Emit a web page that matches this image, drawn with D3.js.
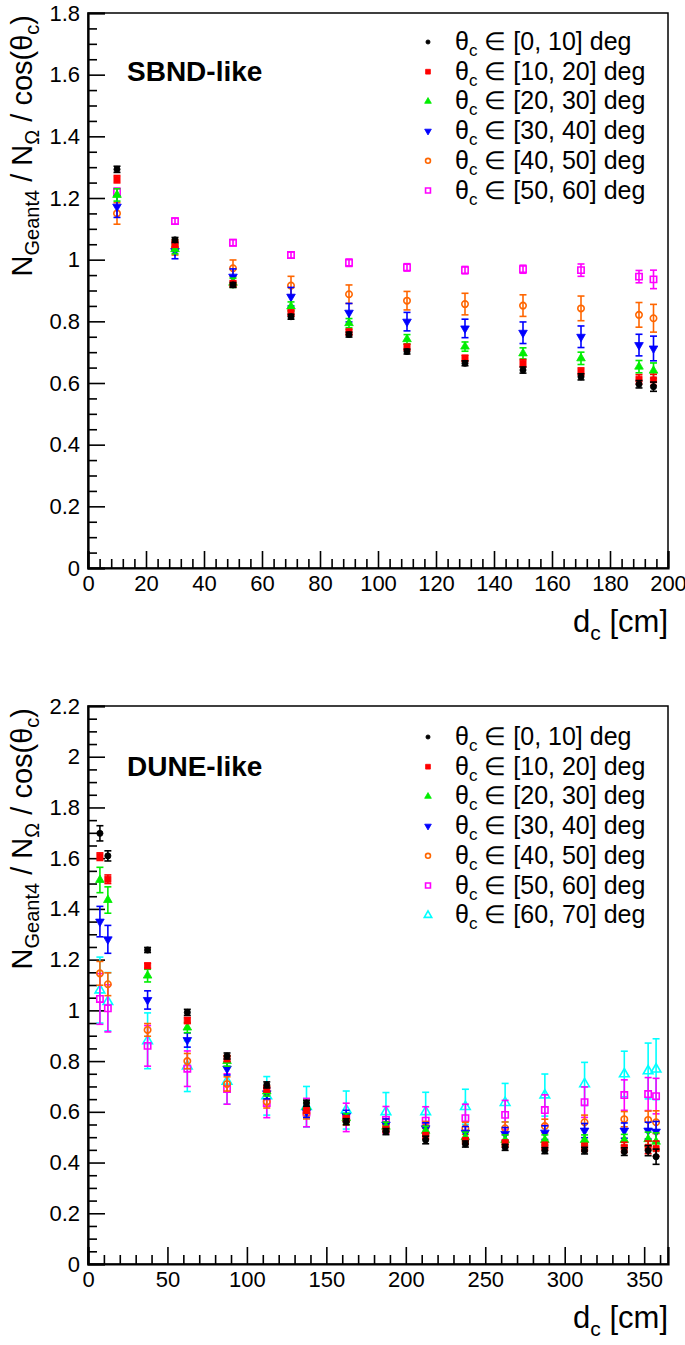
<!DOCTYPE html>
<html><head><meta charset="utf-8">
<script src="https://cdn.jsdelivr.net/npm/d3@7"></script>
<style>html,body{margin:0;padding:0;background:#fff}svg{display:block}</style>
</head><body>
<script>
// ---------- DATA ----------
const seriesNames = ["[0, 10]", "[10, 20]", "[20, 30]", "[30, 40]", "[40, 50]", "[50, 60]", "[60, 70]"];
const seriesColors = ["#000000", "#ff0000", "#00ee00", "#0000ff", "#ff6600", "#ff00ff", "#00ffff"];
const seriesMarkers = ["dot", "square", "triUp", "triDown", "openCircle", "openSquare", "openTriUp"];

// SBND-like
const sbndX = [10, 30, 50, 70, 90, 110, 130, 150, 170, 190, 195];
const sbndY = [
  [1.293, 1.064, 0.918, 0.815, 0.757, 0.702, 0.664, 0.642, 0.620, 0.596, 0.588],
  [1.261, 1.050, 0.922, 0.827, 0.765, 0.716, 0.680, 0.664, 0.637, 0.612, 0.610],
  [1.210, 1.034, 0.925, 0.848, 0.794, 0.742, 0.718, 0.696, 0.680, 0.653, 0.640],
  [1.172, 1.028, 0.945, 0.880, 0.828, 0.799, 0.777, 0.763, 0.750, 0.723, 0.712],
  [1.150, 1.040, 0.972, 0.916, 0.888, 0.867, 0.856, 0.851, 0.842, 0.821, 0.810],
  [1.220, 1.125, 1.055, 1.015, 0.990, 0.975, 0.966, 0.969, 0.966, 0.945, 0.936]
];
const sbndErr = [
  [0.010, 0.008, 0.008, 0.008, 0.008, 0.008, 0.008, 0.010, 0.010, 0.012, 0.015],
  [0.012, 0.010, 0.010, 0.010, 0.010, 0.010, 0.010, 0.012, 0.012, 0.015, 0.018],
  [0.020, 0.015, 0.015, 0.015, 0.015, 0.015, 0.015, 0.018, 0.020, 0.020, 0.025],
  [0.035, 0.025, 0.025, 0.030, 0.030, 0.030, 0.030, 0.035, 0.035, 0.035, 0.040],
  [0.035, 0.025, 0.027, 0.030, 0.030, 0.030, 0.035, 0.035, 0.040, 0.040, 0.045],
  [0.012, 0.010, 0.010, 0.010, 0.012, 0.012, 0.012, 0.013, 0.020, 0.020, 0.030]
];
const sbndXTicks = [0, 20, 40, 60, 80, 100, 120, 140, 160, 180, 200];
const sbndYTicks = [0, 0.2, 0.4, 0.6, 0.8, 1, 1.2, 1.4, 1.6, 1.8];

// DUNE-like
const duneX = [7.5, 12.5, 37.5, 62.5, 87.5, 112.5, 137.5, 162.5, 187.5, 212.5, 237.5, 262.5, 287.5, 312.5, 337.5, 352.5, 357.5];
const duneY = [
  [1.698, 1.609, 1.238, 0.992, 0.820, 0.706, 0.634, 0.561, 0.522, 0.489, 0.473, 0.460, 0.447, 0.447, 0.443, 0.447, 0.423],
  [1.606, 1.517, 1.176, 0.960, 0.810, 0.690, 0.607, 0.572, 0.530, 0.505, 0.485, 0.475, 0.465, 0.460, 0.460, 0.460, 0.455],
  [1.514, 1.435, 1.137, 0.932, 0.800, 0.680, 0.620, 0.575, 0.541, 0.525, 0.500, 0.489, 0.489, 0.489, 0.489, 0.492, 0.482],
  [1.350, 1.280, 1.041, 0.883, 0.770, 0.673, 0.600, 0.584, 0.550, 0.535, 0.518, 0.513, 0.518, 0.526, 0.526, 0.526, 0.522],
  [1.146, 1.103, 0.923, 0.800, 0.710, 0.640, 0.594, 0.570, 0.550, 0.540, 0.535, 0.535, 0.544, 0.559, 0.571, 0.568, 0.559],
  [1.045, 1.008, 0.860, 0.770, 0.690, 0.635, 0.597, 0.578, 0.568, 0.565, 0.575, 0.588, 0.607, 0.638, 0.666, 0.670, 0.662],
  [1.080, 1.034, 0.880, 0.780, 0.720, 0.663, 0.620, 0.607, 0.600, 0.600, 0.620, 0.636, 0.666, 0.710, 0.749, 0.761, 0.768]
];
const duneErr = [
  [0.030, 0.020, 0.010, 0.012, 0.012, 0.012, 0.012, 0.012, 0.012, 0.015, 0.012, 0.012, 0.012, 0.013, 0.015, 0.020, 0.030],
  [0.015, 0.017, 0.010, 0.012, 0.012, 0.012, 0.012, 0.012, 0.012, 0.013, 0.013, 0.014, 0.015, 0.016, 0.020, 0.025, 0.030],
  [0.050, 0.052, 0.025, 0.020, 0.020, 0.018, 0.018, 0.018, 0.018, 0.018, 0.020, 0.020, 0.020, 0.020, 0.022, 0.028, 0.035],
  [0.060, 0.055, 0.036, 0.028, 0.025, 0.022, 0.022, 0.022, 0.022, 0.022, 0.024, 0.025, 0.027, 0.028, 0.030, 0.033, 0.040],
  [0.047, 0.045, 0.025, 0.030, 0.028, 0.025, 0.022, 0.022, 0.022, 0.022, 0.024, 0.025, 0.027, 0.028, 0.030, 0.035, 0.045],
  [0.100, 0.093, 0.080, 0.070, 0.060, 0.058, 0.056, 0.056, 0.053, 0.055, 0.055, 0.057, 0.060, 0.060, 0.060, 0.065, 0.070],
  [0.130, 0.115, 0.110, 0.100, 0.090, 0.076, 0.080, 0.075, 0.076, 0.077, 0.069, 0.076, 0.083, 0.085, 0.090, 0.110, 0.120]
];
const duneXTicks = [0, 50, 100, 150, 200, 250, 300, 350];
const duneYTicks = [0, 0.2, 0.4, 0.6, 0.8, 1, 1.2, 1.4, 1.6, 1.8, 2, 2.2];

// ---------- DRAW ----------
const W = 685, H = 1345;
const FONT = "'Liberation Sans', Arial, Helvetica, sans-serif";
const svg = d3.select("body").append("svg").attr("width", W).attr("height", H)
  .style("font-family", FONT);

function drawMarker(g, type, color, cx, cy, s) {
  const sym = {
    dot: d3.symbolCircle, square: d3.symbolSquare, triUp: d3.symbolTriangle,
    triDown: d3.symbolTriangle, openCircle: d3.symbolCircle, openSquare: d3.symbolSquare,
    openTriUp: d3.symbolTriangle
  }[type];
  const sizes = { dot: 30, square: 38, triUp: 32, triDown: 32, openCircle: 32, openSquare: 40, openTriUp: 40 };
  const open = type.startsWith("open");
  g.append("path")
    .attr("d", d3.symbol().type(sym).size(sizes[type] * s)())
    .attr("transform", `translate(${cx},${cy})${type === "triDown" ? " rotate(180)" : ""}`)
    .attr("fill", open ? "none" : color)
    .attr("stroke", color)
    .attr("stroke-width", open ? 1.6 : 0.8);
}

function panel(cfg) {
  const { top, bottom, left, right, xmax, ymax, xTicks, xMinorStep, yTicks, xs, ys, errs, label, legendTop, labelY, xTitleY } = cfg;
  const g = svg.append("g");
  const x = d3.scaleLinear().domain([0, xmax]).range([left, right]);
  const y = d3.scaleLinear().domain([0, ymax]).range([bottom, top]);

  // frame
  g.append("rect").attr("x", left).attr("y", top).attr("width", right - left).attr("height", bottom - top)
    .attr("fill", "none").attr("stroke", "#000").attr("stroke-width", 1.5);

  // axes using d3 axis, ticks inward
  const yAxis = d3.axisLeft(y).tickValues(yTicks).tickSize(-17).tickPadding(8)
    .tickFormat(d => d3.format("~g")(d));
  const ya = g.append("g").attr("transform", `translate(${left},0)`).call(yAxis);
  ya.select(".domain").attr("stroke-width", 2.2);
  ya.selectAll(".tick line").attr("stroke-width", 1.6);
  ya.selectAll(".tick text").attr("font-size", 22).attr("font-family", FONT).attr("fill", "#000");
  const yMinor = d3.range(0, ymax + 1e-9, 0.05).filter(v => !yTicks.some(t => Math.abs(t - v) < 1e-6));
  const yma = g.append("g").attr("transform", `translate(${left},0)`)
    .call(d3.axisLeft(y).tickValues(yMinor).tickSize(-9).tickFormat(""));
  yma.select(".domain").remove();
  yma.selectAll(".tick line").attr("stroke-width", 1.6);

  const xAxis = d3.axisBottom(x).tickValues(xTicks).tickSize(-17).tickPadding(7);
  const xa = g.append("g").attr("transform", `translate(0,${bottom})`).call(xAxis);
  xa.select(".domain").attr("stroke-width", 2.2);
  xa.selectAll(".tick line").attr("stroke-width", 1.6);
  xa.selectAll(".tick text").attr("font-size", 22).attr("font-family", FONT).attr("fill", "#000");
  const xMinor = d3.range(0, xmax + 1e-9, xMinorStep).filter(v => !xTicks.some(t => Math.abs(t - v) < 1e-6));
  const xma = g.append("g").attr("transform", `translate(0,${bottom})`)
    .call(d3.axisBottom(x).tickValues(xMinor).tickSize(-9).tickFormat(""));
  xma.select(".domain").remove();
  xma.selectAll(".tick line").attr("stroke-width", 1.6);

  // y title
  const yt = g.append("text").attr("transform", `translate(32,${top + 2}) rotate(-90)`)
    .attr("text-anchor", "end").attr("font-size", 29).attr("fill", "#000");
  yt.append("tspan").text("N");
  yt.append("tspan").attr("font-size", 20).attr("dy", 7).text("Geant4");
  yt.append("tspan").attr("dy", -7).text(" / N");
  yt.append("tspan").attr("font-size", 20).attr("dy", 7).text("Ω");
  yt.append("tspan").attr("dy", -7).text(" / cos(θ");
  yt.append("tspan").attr("font-size", 20).attr("dy", 7).text("c");
  yt.append("tspan").attr("dy", -7).text(")");

  // x title
  const xt = g.append("text").attr("x", right).attr("y", xTitleY).attr("text-anchor", "end")
    .attr("font-size", 31).attr("fill", "#000");
  xt.append("tspan").text("d");
  xt.append("tspan").attr("font-size", 21).attr("dy", 8).text("c");
  xt.append("tspan").attr("dy", -8).text(" [cm]");

  // label
  g.append("text").attr("x", 127).attr("y", labelY).attr("font-size", 28).attr("font-weight", "bold")
    .attr("fill", "#000").text(label);

  // data (drawn last series first, black on top)
  const nS = ys.length;
  for (let si = nS - 1; si >= 0; si--) {
    const col = seriesColors[si];
    const sg = g.append("g");
    xs.forEach((xv, i) => {
      const yv = ys[si][i], e = errs[si][i];
      const px = x(xv), y1 = y(yv + e), y2 = y(yv - e);
      sg.append("line").attr("x1", px).attr("x2", px).attr("y1", y1).attr("y2", y2)
        .attr("stroke", col).attr("stroke-width", 1.6);
      [y1, y2].forEach(yy => sg.append("line").attr("x1", px - 3.5).attr("x2", px + 3.5)
        .attr("y1", yy).attr("y2", yy).attr("stroke", col).attr("stroke-width", 1.6));
      drawMarker(sg, seriesMarkers[si], col, px, y(yv), 1);
    });
  }

  // legend
  for (let si = 0; si < nS; si++) {
    const cy = legendTop + si * 29.7;
    drawMarker(g, seriesMarkers[si], seriesColors[si], 428, cy, si === 0 ? 0.45 : 0.6);
    const t = g.append("text").attr("x", 455).attr("y", cy + 8).attr("font-size", 25).attr("fill", "#000");
    t.append("tspan").text("θ");
    t.append("tspan").attr("font-size", 17).attr("dy", 6).text("c");
    t.append("tspan").attr("dy", -6).text(" ∈ " + seriesNames[si] + " deg");
  }
}

panel({
  top: 13, bottom: 568, left: 88, right: 668, xmax: 200, ymax: 1.8,
  xTicks: sbndXTicks, xMinorStep: 4, yTicks: sbndYTicks,
  xs: sbndX, ys: sbndY, errs: sbndErr, label: "SBND-like",
  legendTop: 42, labelY: 81, xTitleY: 632
});
panel({
  top: 706, bottom: 1264, left: 88, right: 668, xmax: 365, ymax: 2.2,
  xTicks: duneXTicks, xMinorStep: 10, yTicks: duneYTicks,
  xs: duneX, ys: duneY, errs: duneErr, label: "DUNE-like",
  legendTop: 737, labelY: 776, xTitleY: 1328
});
</script>
</body></html>
